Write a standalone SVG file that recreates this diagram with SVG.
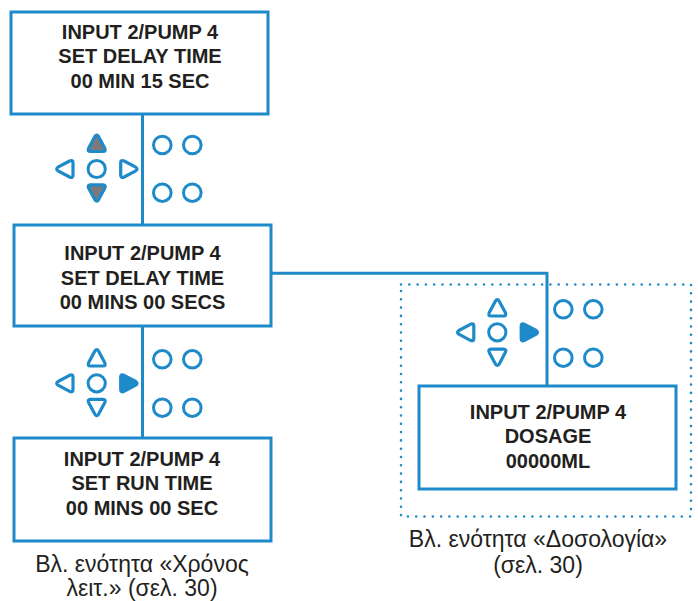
<svg xmlns="http://www.w3.org/2000/svg" width="698" height="601" viewBox="0 0 698 601">
<style>
.box{fill:#fff;stroke:#1f8ac9;stroke-width:3}
.ln{fill:none;stroke:#1f8ac9;stroke-width:3}
.dot{fill:none;stroke:#1f8ac9;stroke-width:2.6;stroke-dasharray:0 8.3;stroke-linecap:round}
.btn{fill:#fff;stroke:#1f8ac9;stroke-width:3}
.gray{fill:#7a7a7a;stroke:#1f8ac9}
.wt{fill:#fff;stroke:#1f8ac9}
.fill{fill:#1f8ac9;stroke:#1f8ac9}
.t{font-family:"Liberation Sans",Arial,sans-serif;font-weight:bold;font-size:20px;fill:#231f20;text-anchor:middle}
.c{font-family:"Liberation Sans",Arial,sans-serif;font-size:23px;fill:#231f20;text-anchor:middle}
</style>
<defs>
<path id="tri" stroke-width="3.2" stroke-linejoin="round" d="M-1.8,-7 Q0,-9.6 1.8,-7 L8,4.6 Q9.6,8 6.2,8 L-6.2,8 Q-9.6,8 -8,4.6 Z"/>
</defs>
<g id="connectors">
<line class="ln" x1="142.5" y1="114" x2="142.5" y2="225"/>
<line class="ln" x1="142.5" y1="326" x2="142.5" y2="438"/>
<polyline class="ln" points="271,273.3 547,273.3 547,386"/>
</g>
<g id="group-dosage">
<rect class="dot" x="401" y="284.5" width="290" height="232"/>
</g>
<g id="box1">
<rect class="box" x="11" y="12" width="257" height="102"/>
<text class="t" x="140" y="38.5">INPUT 2/PUMP 4</text>
<text class="t" x="140" y="63">SET DELAY TIME</text>
<text class="t" x="140" y="87.5">00 MIN 15 SEC</text>
</g>
<g id="keypad1">
<use href="#tri" class="gray" transform="translate(96.7,143.5)"/>
<circle class="btn" cx="96.7" cy="169" r="8.6"/>
<use href="#tri" class="gray" transform="translate(96.7,192.8) rotate(180)"/>
<use href="#tri" class="wt" transform="translate(65,169) rotate(-90)"/>
<use href="#tri" class="wt" transform="translate(128.7,169) rotate(90)"/>
<circle class="btn" cx="162.3" cy="145" r="8.8"/>
<circle class="btn" cx="192.3" cy="145" r="8.8"/>
<circle class="btn" cx="162.3" cy="192.7" r="8.8"/>
<circle class="btn" cx="192.3" cy="192.7" r="8.8"/>
</g>
<g id="box2">
<rect class="box" x="14" y="225" width="257" height="101"/>
<text class="t" x="142.5" y="260">INPUT 2/PUMP 4</text>
<text class="t" x="142.5" y="284.5">SET DELAY TIME</text>
<text class="t" x="142.5" y="308.5">00 MINS 00 SECS</text>
</g>
<g id="keypad2">
<use href="#tri" class="wt" transform="translate(96.7,358)"/>
<circle class="btn" cx="96.7" cy="383.3" r="8.6"/>
<use href="#tri" class="wt" transform="translate(96.7,407.3) rotate(180)"/>
<use href="#tri" class="wt" transform="translate(65,383.3) rotate(-90)"/>
<use href="#tri" class="fill" transform="translate(128.7,383.3) rotate(90)"/>
<circle class="btn" cx="162.3" cy="359.3" r="8.8"/>
<circle class="btn" cx="192.3" cy="359.3" r="8.8"/>
<circle class="btn" cx="162.3" cy="407.7" r="8.8"/>
<circle class="btn" cx="192.3" cy="407.7" r="8.8"/>
</g>
<g id="box3">
<rect class="box" x="14" y="438" width="257" height="103"/>
<text class="t" x="142" y="465.5">INPUT 2/PUMP 4</text>
<text class="t" x="142" y="490">SET RUN TIME</text>
<text class="t" x="142" y="514.5">00 MINS 00 SEC</text>
</g>
<g id="caption-left">
<text class="c" x="142" y="572">Βλ. ενότητα «Χρόνος</text>
<text class="c" x="142" y="596">λειτ.» (σελ. 30)</text>
</g>
<g id="keypad3">
<use href="#tri" class="wt" transform="translate(497.3,308)"/>
<circle class="btn" cx="497.3" cy="332.3" r="8.6"/>
<use href="#tri" class="wt" transform="translate(497.3,357.2) rotate(180)"/>
<use href="#tri" class="wt" transform="translate(465.8,332.3) rotate(-90)"/>
<use href="#tri" class="fill" transform="translate(529.2,332.3) rotate(90)"/>
<circle class="btn" cx="563.3" cy="309.3" r="8.8"/>
<circle class="btn" cx="593.3" cy="309.3" r="8.8"/>
<circle class="btn" cx="563.3" cy="357.7" r="8.8"/>
<circle class="btn" cx="593.3" cy="357.7" r="8.8"/>
</g>
<g id="box4">
<rect class="box" x="419" y="386" width="257" height="103"/>
<text class="t" x="548" y="418.5">INPUT 2/PUMP 4</text>
<text class="t" x="548" y="443">DOSAGE</text>
<text class="t" x="548" y="467.5">00000ML</text>
</g>
<g id="caption-right">
<text class="c" x="538" y="546.5">Βλ. ενότητα «Δοσολογία»</text>
<text class="c" x="538" y="573">(σελ. 30)</text>
</g>
</svg>
